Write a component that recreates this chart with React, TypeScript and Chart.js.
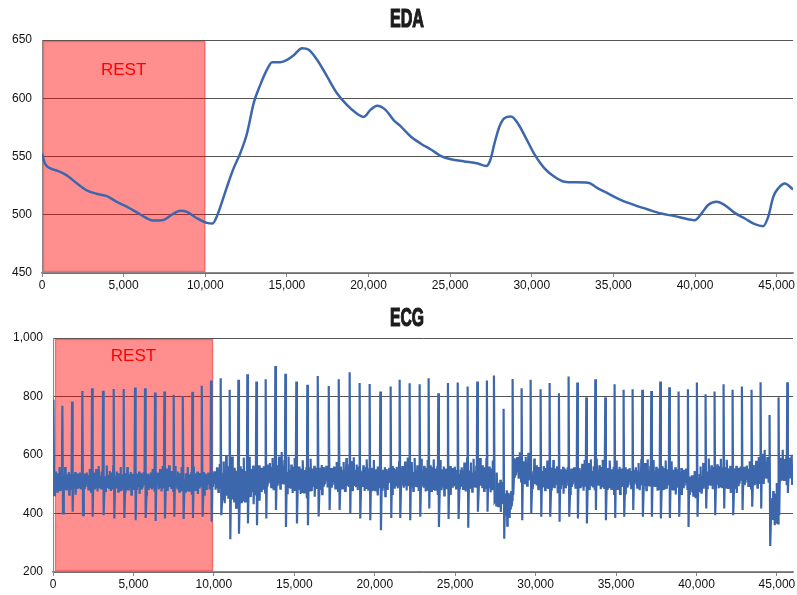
import React, { useEffect, useRef } from 'react';
import { Chart, registerables } from 'chart.js';

Chart.register(...registerables);

// ---------------- EDA data ----------------
const EDA_T = [
  0, 180, 490, 900, 1500, 2130, 2740, 3350, 3970, 4580, 5190, 5810, 6420, 6830, 7440, 7950, 8470, 8880, 9490, 10100,
  10450, 10720, 11330, 11740, 12150, 12560, 12970, 13370, 13780, 14090, 14600, 15010, 15420, 15930, 16340, 16850, 17460,
  18080, 18690, 19200, 19710, 20120, 20530, 21040, 21550, 21960, 22600, 23210, 23820, 24440, 25050, 25870, 26690, 27200,
  27460, 27710, 28020, 28320, 28730, 29140, 29650, 30160, 30780, 31390, 32000, 32620, 33440, 34050, 34660, 35480, 36300,
  37120, 37930, 38750, 39570, 39980, 40390, 40800, 41310, 41820, 42430, 43050, 43660, 44170, 44480, 44790, 45090, 45500, 46000,
];
const EDA_V = [
  552.7, 544, 540, 538, 534, 527, 521, 518, 516, 511, 507, 502, 497, 495, 495.5, 500, 503.4, 502.5, 497, 493,
  492.5, 499, 524, 540, 553, 570, 596, 611.5, 624.5, 631, 631, 633, 637, 643, 641.7, 633, 618.7,
  604, 594, 587.7, 584, 590, 593.5, 590, 581, 576, 567, 561, 556, 550.4, 547.6, 545.8, 544, 541.8,
  547, 561, 575.7, 582.9, 584.3, 578.6, 565.6, 552, 539.8, 532.6, 528.3, 527.8, 527.5, 522.6, 518.3, 512.6, 508.3,
  504.5, 501, 498.8, 496.2, 495.3, 501, 508.3, 511.1, 508.3, 501.6, 496.8, 491.9, 490.2, 498.2, 515.4, 522.6, 526.9, 521.7,
];

// ---------------- ECG data (one entry per heartbeat) ----------------
const BEAT_T = [
  30, 582, 1183, 1825, 2426, 3109, 3773, 4394, 5098, 5720, 6341, 6922, 7502, 8081, 8662, 9262, 9822,
  10423, 10982, 11521, 12080, 12640, 13220, 13820, 14442, 15125, 15809, 16472, 17156, 17777, 18440, 19061, 19683,
  20346, 20988, 21548, 22169, 22791, 23350, 23950, 24550, 25173, 25773, 26372, 26972, 27410, 28010, 28570, 29130,
  29690, 30311, 30870, 31450, 32051, 32590, 33149, 33709, 34330, 34910, 35469, 36029, 36629, 37189, 37748, 38307,
  38887, 39467, 40026, 40565, 41125, 41684, 42244, 42824, 43424, 43984, 44543, 45103, 45642,
];
const BEAT_PEAK = [
  789, 768, 783, 819, 828, 820, 826, 826, 831, 828, 814, 817, 806, 802, 816, 837, 855,
  862, 823, 857, 876, 851, 859, 904, 878, 851, 840, 870, 836, 859, 883, 846, 843,
  817, 834, 857, 845, 842, 862, 811, 846, 848, 834, 851, 855, 872, 758, 860, 828,
  857, 825, 846, 811, 868, 848, 797, 859, 797, 842, 823, 825, 823, 819, 851, 832,
  817, 825, 848, 808, 817, 842, 823, 834, 823, 849, 737, 797, 849,
];
const BEAT_TROUGH = [
  463, 400, 406, 394, 389, 394, 383, 385, 377, 385, 374, 383, 389, 381, 385, 389, 372,
  394, 312, 331, 366, 360, 383, 412, 354, 366, 360, 390, 412, 412, 400, 383, 377,
  343, 385, 385, 377, 389, 417, 354, 381, 381, 351, 406, 406, 440, 314, 463, 377,
  400, 389, 389, 372, 389, 383, 366, 412, 377, 385, 389, 412, 389, 389, 383, 385,
  389, 354, 389, 417, 394, 417, 394, 412, 423, 417, 289, 394, 470,
];
const BEAT_BASE = [
  510, 510, 510, 510, 510, 512, 510, 510, 512, 510, 510, 512, 510, 510, 512, 510, 512,
  500, 490, 500, 510, 515, 530, 535, 520, 515, 520, 525, 522, 522, 525, 522, 520,
  518, 522, 524, 522, 520, 522, 520, 522, 520, 520, 522, 518, 470, 430, 555, 540,
  525, 522, 524, 522, 522, 520, 522, 525, 522, 522, 520, 522, 522, 520, 522, 520,
  518, 495, 510, 525, 528, 525, 525, 528, 530, 550, 420, 555, 560,
];
const BEAT_SPREAD = [
  35, 35, 35, 35, 35, 35, 35, 35, 35, 35, 35, 35, 35, 35, 35, 35, 38,
  65, 70, 65, 60, 55, 50, 50, 50, 48, 48, 45, 45, 45, 45, 45, 45,
  45, 45, 45, 45, 45, 45, 45, 45, 45, 45, 45, 45, 50, 55, 45, 45,
  42, 42, 42, 42, 42, 42, 42, 42, 42, 42, 42, 42, 42, 42, 42, 42,
  42, 42, 42, 42, 42, 42, 42, 42, 42, 45, 60, 45, 45,
];
// band jitter between beats (relative to the band half-width)
const NOISE = [
  0.55, -0.7, 0.95, -0.35, 0.25, -1.0, 0.8, -0.5, 0.1, -0.85, 1.4, -0.25, 0.5, -0.9,
  0.7, -0.15, 0.4, -0.6, 0.9, -1.3, 0.2, -0.45, 0.75, -0.75, 0.35, -0.55, 0.65, -0.3,
  0.85, -0.1, 0.3, -0.8, 0.6, -0.4, 1.2, -0.65, 0.15, -1.0, 0.45, -0.2, 1.5, -0.6, 0.25, -0.35,
];

const X_MAX = 46000;
const X_TICKS = [0, 5000, 10000, 15000, 20000, 25000, 30000, 35000, 40000, 45000];
const EDA_Y = [450, 650, 50];
const ECG_Y = [200, 1000, 200];
const EDA_REST = [0, 10000];
const ECG_REST = [60, 9950];
const EDA_REST_LABEL = 624;
const ECG_REST_LABEL = 938;

const LINE_COLOR = '#3d67ad';
const TICK_FONT = { family: '"Liberation Sans", Arial, sans-serif', size: 12 };

function edaPoints() {
  return EDA_T.map((t, i) => ({ x: t, y: EDA_V[i] }));
}

function ecgPoints() {
  const pts: { x: number; y: number }[] = [{ x: 0, y: 470 }];
  for (let i = 0; i < BEAT_T.length; i++) {
    const t = BEAT_T[i];
    pts.push({ x: t, y: BEAT_PEAK[i] });
    pts.push({ x: t + 40, y: BEAT_TROUGH[i] });
    const next = i + 1 < BEAT_T.length ? BEAT_T[i + 1] - 30 : X_MAX;
    const start = t + 90;
    const n = Math.max(1, Math.round((next - start) / 28));
    for (let k = 0; k <= n; k++) {
      const x = start + ((next - start) * k) / n;
      const y = BEAT_BASE[i] + NOISE[(i * 7 + k) % NOISE.length] * BEAT_SPREAD[i];
      pts.push({ x, y });
    }
  }
  return pts;
}

function titlePlugin(text: string, baseline: number) {
  return {
    id: 'bigTitle',
    afterDraw(chart: any) {
      const ctx = chart.ctx;
      ctx.save();
      ctx.font = 'bold 25px "Liberation Sans Narrow", "Liberation Sans", Arial, sans-serif';
      const w = ctx.measureText(text).width;
      ctx.translate(407, baseline);
      ctx.scale(34 / w, 1);
      ctx.textAlign = 'center';
      ctx.textBaseline = 'alphabetic';
      ctx.fillStyle = '#1c1c1c';
      ctx.strokeStyle = '#1c1c1c';
      ctx.lineWidth = 1.2;
      ctx.fillText(text, 0, 0);
      ctx.strokeText(text, 0, 0);
      ctx.restore();
    },
  };
}

function restPlugin(range: number[], labelValue: number) {
  return {
    id: 'restBox',
    beforeDatasetsDraw(chart: any) {
      const { ctx, chartArea, scales } = chart;
      const x0 = scales.x.getPixelForValue(range[0]);
      const x1 = scales.x.getPixelForValue(range[1]);
      const top = chartArea.top + 1;
      const h = chartArea.bottom - chartArea.top - 2;
      ctx.save();
      ctx.fillStyle = 'rgba(255,0,0,0.44)';
      ctx.fillRect(x0 + 1, top, x1 - x0 - 1, h);
      ctx.strokeStyle = 'rgba(220,40,40,0.35)';
      ctx.lineWidth = 1.5;
      ctx.strokeRect(x0 + 1.5, top + 0.5, x1 - x0 - 2, h - 1);
      ctx.fillStyle = '#ff0000';
      ctx.font = '17px "Liberation Sans", Arial, sans-serif';
      ctx.textAlign = 'center';
      ctx.textBaseline = 'middle';
      ctx.fillText('REST', (x0 + x1) / 2, scales.y.getPixelForValue(labelValue));
      ctx.restore();
    },
  };
}

function makeConfig(points: any[], yr: number[], yWidth: number, xHeight: number, padTop: number, lineWidth: number, plugins: any[], smooth: boolean) {
  return {
    type: 'line' as const,
    data: {
      datasets: [
        {
          data: points,
          borderColor: LINE_COLOR,
          borderWidth: lineWidth,
          pointRadius: 0,
          fill: false,
          tension: smooth ? 0.3 : 0,
          cubicInterpolationMode: smooth ? ('monotone' as const) : ('default' as const),
        },
      ],
    },
    options: {
      animation: false as const,
      responsive: false,
      events: [],
      layout: { padding: { top: padTop, right: 4, left: 0, bottom: 0 } },
      plugins: { legend: { display: false }, tooltip: { enabled: false }, title: { display: false } },
      scales: {
        x: {
          type: 'linear' as const,
          min: 0,
          max: X_MAX,
          afterFit(scale: any) {
            scale.height = xHeight;
          },
          afterBuildTicks(scale: any) {
            scale.ticks = X_TICKS.map((v) => ({ value: v }));
          },
          ticks: {
            maxRotation: 0,
            autoSkip: false,
            padding: 1,
            color: '#111',
            font: TICK_FONT,
            callback: (v: any) => Number(v).toLocaleString('en-US'),
          },
          grid: { drawOnChartArea: false, drawTicks: true, tickLength: 4, color: '#8a8a8a' },
          border: { display: true, color: '#8a8a8a', width: 1.5 },
        },
        y: {
          type: 'linear' as const,
          min: yr[0],
          max: yr[1],
          afterFit(scale: any) {
            scale.width = yWidth;
          },
          ticks: {
            stepSize: yr[2],
            padding: 10,
            color: '#111',
            font: TICK_FONT,
            callback: (v: any) => Number(v).toLocaleString('en-US'),
          },
          grid: { color: '#555', lineWidth: 1, drawTicks: false },
          border: { display: true, color: '#8a8a8a', width: 1 },
        },
      },
    },
    plugins,
  };
}

export default function App() {
  const edaRef = useRef<HTMLCanvasElement>(null);
  const ecgRef = useRef<HTMLCanvasElement>(null);

  useEffect(() => {
    const c1 = new Chart(
      edaRef.current as HTMLCanvasElement,
      makeConfig(edaPoints(), EDA_Y, 42, 24, 40, 2.5, [restPlugin(EDA_REST, EDA_REST_LABEL), titlePlugin('EDA', 27)], true) as any
    );
    const c2 = new Chart(
      ecgRef.current as HTMLCanvasElement,
      makeConfig(ecgPoints(), ECG_Y, 53, 23, 41, 2.2, [restPlugin(ECG_REST, ECG_REST_LABEL), titlePlugin('ECG', 28.5)], false) as any
    );
    return () => {
      c1.destroy();
      c2.destroy();
    };
  }, []);

  return (
    <div style={{ position: 'fixed', left: 0, top: 0, width: 797, height: 595, background: '#fff' }}>
      <canvas ref={edaRef} width={797} height={297} style={{ position: 'absolute', left: 0, top: 0, width: 797, height: 297 }} />
      <canvas ref={ecgRef} width={797} height={298} style={{ position: 'absolute', left: 0, top: 297, width: 797, height: 298 }} />
    </div>
  );
}
